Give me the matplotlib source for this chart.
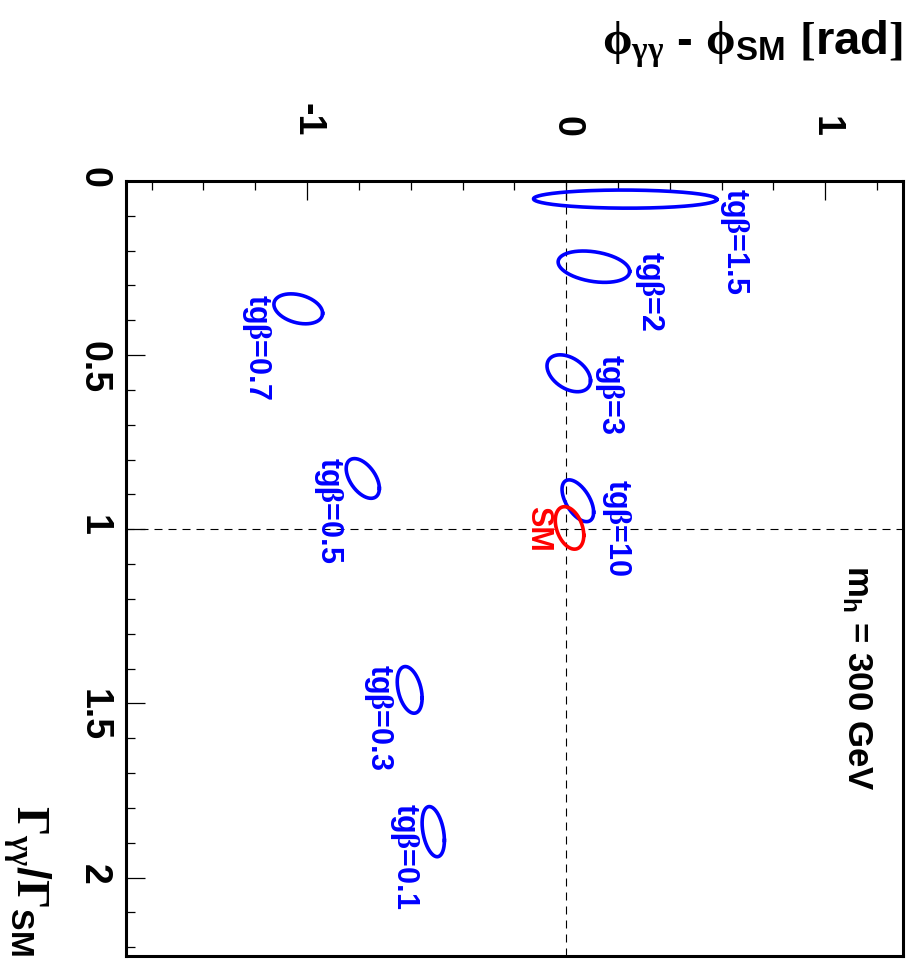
import numpy as np
import matplotlib
matplotlib.use("Agg")
import matplotlib.pyplot as plt
from matplotlib.ticker import MultipleLocator, FuncFormatter

plt.rcParams['font.family'] = ['Liberation Sans', 'DejaVu Sans']
plt.rcParams['font.weight'] = 'bold'
plt.rcParams['mathtext.fontset'] = 'custom'
plt.rcParams['mathtext.rm'] = 'Liberation Serif'
plt.rcParams['mathtext.it'] = 'Liberation Serif:italic'
plt.rcParams['mathtext.bf'] = 'Liberation Sans:bold'
plt.rcParams['mathtext.sf'] = 'Liberation Sans:bold'

# ---------------- data ----------------
names = ["1.5", "2", "3", "10", "SM", "0.7", "0.5", "0.3", "0.1"]
# ellipse centres: phase difference (rad) and width ratio
phi_c = [0.228, 0.107, 0.010, 0.045, 0.013, -1.034, -0.785, -0.604, -0.513]
gam_c = [0.052, 0.246, 0.552, 0.918, 0.996, 0.367, 0.854, 1.461, 1.868]
# half extents
phi_a = [0.354, 0.138, 0.084, 0.061, 0.055, 0.094, 0.064, 0.048, 0.043]
gam_a = [0.026, 0.045, 0.053, 0.060, 0.061, 0.043, 0.057, 0.067, 0.072]
# correlation
rho = [0.03, 0.30, 0.40, 0.55, 0.35, 0.30, 0.50, 0.35, 0.35]
colors = ["blue"] * 4 + ["red"] + ["blue"] * 4
# label anchor positions (phi, Gamma)
lab_phi = [0.650, 0.322, 0.168, 0.193, -0.110, -1.194, -0.916, -0.723, -0.623]
lab_gam = [0.172, 0.315, 0.612, 0.995, 1.000, 0.476, 0.945, 1.540, 1.938]

phi_lim = (-1.7, 1.3)
gam_lim = (0.0, 2.225)

# ---------------- figure ----------------
fig = plt.figure(figsize=(9.09, 9.65), dpi=100)
ax = fig.add_axes([125.7 / 909, 1 - 956 / 965, (903 - 125.7) / 909, (956 - 181) / 965])

ax.set_xlim(*phi_lim)
ax.set_ylim(gam_lim[1], gam_lim[0])

ax.axvline(0, color='black', lw=0.8, dashes=(7.2, 5.4), zorder=1)
ax.axhline(1, color='black', lw=0.8, dashes=(7.2, 5.4), zorder=1)

t = np.linspace(0, 2 * np.pi, 500)
for i, n in enumerate(names):
    d = np.arccos(rho[i])
    x = phi_c[i] + phi_a[i] * np.cos(t)
    y = gam_c[i] + gam_a[i] * np.cos(t - d)
    ax.plot(x, y, color=colors[i], lw=2.6, zorder=3)
    if n == "SM":
        txt = "SM"
    else:
        txt = r"tg$\mathrm{\beta}$=" + n
    ax.text(lab_phi[i], lab_gam[i], txt, color=colors[i], rotation=-90,
            ha='center', va='center', fontsize=22, fontweight='bold', zorder=4)

ax.text(1.120, 1.102, r"m$_{\mathbf{h}}$ = 300 GeV", rotation=-90, ha='center', va='top',
        fontsize=25, fontweight='bold')

# axes styling
for s in ax.spines.values():
    s.set_linewidth(2.2)

fmt = FuncFormatter(lambda v, p: "%g" % v)
ax.xaxis.set_major_locator(MultipleLocator(1.0))
ax.xaxis.set_minor_locator(MultipleLocator(0.2))
ax.yaxis.set_major_locator(MultipleLocator(0.5))
ax.yaxis.set_minor_locator(MultipleLocator(0.1))
ax.xaxis.set_major_formatter(fmt)
ax.yaxis.set_major_formatter(fmt)

ax.tick_params(axis='x', which='both', direction='in', top=True, bottom=False,
               labeltop=True, labelbottom=False, width=0.9)
ax.tick_params(axis='x', which='major', length=13.5, pad=32, labelrotation=-90, labelsize=27)
ax.tick_params(axis='x', which='minor', length=6.5)
ax.tick_params(axis='y', which='both', direction='in', left=True, right=False,
               labelleft=True, labelright=False, width=0.9)
ax.tick_params(axis='y', which='major', length=13.5, pad=10, labelrotation=-90, labelsize=27)
ax.tick_params(axis='y', which='minor', length=6.5)
for lab in ax.get_xticklabels() + ax.get_yticklabels():
    lab.set_fontweight('bold')

# axis titles
fig.text(903 / 909, 1 - 55 / 965,
         r"$\mathrm{\phi}_{\mathrm{\gamma\gamma}}$ - $\mathrm{\phi}_{\mathbf{SM}}$ $[$rad$]$",
         ha='right', va='baseline', fontsize=34, fontweight='bold')
fig.text(52 / 909, 1 - 805 / 965, r"$\Gamma_{\mathrm{\gamma\gamma}}$/$\Gamma_{\mathbf{SM}}$",
         rotation=-90, ha='right', va='top', fontsize=33, fontweight='bold')

fig.savefig("out.png", dpi=100)
